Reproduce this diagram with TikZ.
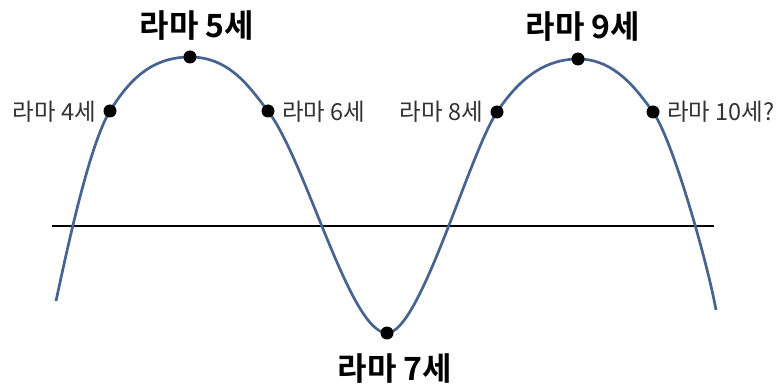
\documentclass[tikz,border=0pt]{standalone}
\usepackage{fontspec}
\newfontfamily\kr{Noto Sans CJK KR}
\newfontfamily\krb{Noto Sans CJK KR Bold}
\definecolor{curvec}{HTML}{46648F}
\definecolor{txt}{HTML}{333333}
\tikzset{
  dot/.style={circle,fill=black,inner sep=0pt,minimum size=13pt},
  small/.style={font=\kr\fontsize{23.5}{26}\selectfont,text=txt,inner sep=0pt},
  big/.style={font=\krb\fontsize{32}{36}\selectfont,text=black,inner sep=0pt}
}
\begin{document}
\begin{tikzpicture}[x=1pt,y=-1pt]
\useasboundingbox (0,0) rectangle (780,390);
\fill[white] (0,0) rectangle (780,390);
\coordinate (s) at (56,301);
\coordinate (p4) at (110,111);
\coordinate (p5) at (190,57);
\coordinate (p6) at (268,111);
\coordinate (p7) at (387,333);
\coordinate (p8) at (497,112);
\coordinate (p9) at (578,59);
\coordinate (p10) at (653,112);
\coordinate (e) at (716,310);
\coordinate (al) at (52,226);
\coordinate (ar) at (714,226);
\draw[line width=2.7pt] (al) -- (ar);
\draw[curvec,line width=2.7pt]
  (s) .. controls +(12,-56) and +(-20,32) .. (p4)
      .. controls +(18,-29) and +(-40,0) .. (p5)
      .. controls +(40,0) and +(-18,-23) .. (p6)
      .. controls +(38,50) and +(-37,0) .. (p7)
      .. controls +(33,0) and +(-28,42) .. (p8)
      .. controls +(18,-27) and +(-38,0) .. (p9)
      .. controls +(37,0) and +(-16,-22) .. (p10)
      .. controls +(20,28) and +(-8,-45) .. (e);
\foreach \p in {p4,p5,p6,p7,p8,p9,p10} \node[dot] (d\p) at (\p) {};
\node[small,anchor=east] (l4) at (96,112) {라마 4세};
\node[small,anchor=west] (l6) at (282,112) {라마 6세};
\node[small,anchor=east] (l8) at (483,112) {라마 8세};
\node[small,anchor=west] (l10) at (667,112) {라마 10세?};
\node[big] (l5) at (197,26) {라마 5세};
\node[big] (l9) at (583,27) {라마 9세};
\node[big] (l7) at (395,369) {라마 7세};
\end{tikzpicture}
\end{document}
